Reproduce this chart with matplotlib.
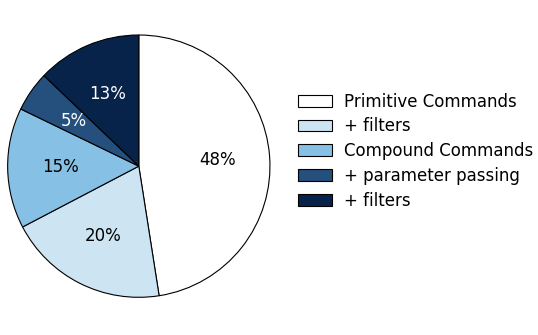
import matplotlib.pyplot as plt

# 数据
labels = ['Primitive Commands', '+ filters', 'Compound Commands',
          '+ parameter passing', '+ filters']
shares = [48, 20, 15, 5, 13]
colors = ['#ffffff', '#cde4f2', '#86c0e4', '#254f7c', '#07234a']
text_colors = ['black', 'black', 'black', 'white', 'white']

fig = plt.figure(figsize=(5.38, 3.35), dpi=100)
ax = fig.add_axes([0.013, 0.11, 0.49, 0.788])

total = sum(shares)
wedges, texts, autotexts = ax.pie(
    shares, colors=colors, startangle=90, counterclock=False,
    autopct=lambda p: '%.0f%%' % (p * total / 100), pctdistance=0.6,
    wedgeprops=dict(edgecolor='black', linewidth=0.8),
    textprops=dict(fontsize=12))
for t, c in zip(autotexts, text_colors):
    t.set_color(c)
ax.set_aspect('equal')
ax.set_xlim(-1.005, 1.005)
ax.set_ylim(-1.005, 1.005)

fig.legend(wedges, labels, loc='center left', bbox_to_anchor=(0.541, 0.549),
           frameon=False, fontsize=12, borderaxespad=0,
           handlelength=2.05, handletextpad=0.75, labelspacing=0.405)

plt.savefig('out.png', dpi=100)
